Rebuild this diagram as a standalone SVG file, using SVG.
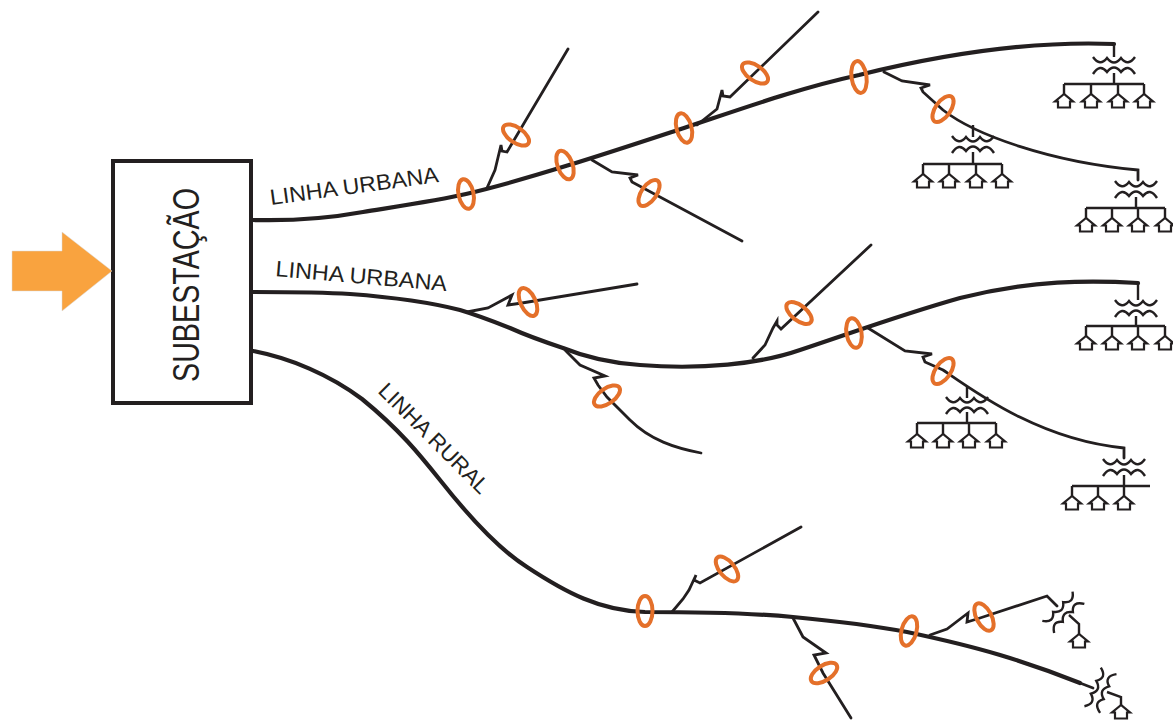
<svg xmlns="http://www.w3.org/2000/svg" width="1173" height="721" viewBox="0 0 1173 721">
<style>
.m{fill:none;stroke:#231f20;stroke-width:4.2;stroke-linejoin:round;stroke-linecap:round}
.b{fill:none;stroke:#231f20;stroke-width:2.8;stroke-linejoin:miter;stroke-linecap:round}
.s{fill:none;stroke:#231f20;stroke-width:2.4}
.h{fill:#fff;stroke:#231f20;stroke-width:2.2;stroke-linejoin:miter}
.o{fill:none;stroke:#e4702a;stroke-width:4}
.t{font-family:"Liberation Sans",Arial,sans-serif;fill:#231f20}
</style>
<defs>
<path id="tr" class="s" d="M-21,-8Q-14,2-7,-7Q0,2 7,-7Q14,2 21,-8M-21,9Q-14,-2-7,7Q0,-2 7,7Q14,-2 21,9"/>
<path id="ho" class="h" d="M0,-1L-9,6.5H-6V12.5H6V6.5H9Z"/>
</defs>
<rect width="1173" height="721" fill="#fff"/>
<g id="connectors">
<path class="m" d="M253,220C290,221 330,218 363,212C400,206 440,200 466,194C530,179 620,149 684,128C750,106 800,88 859,75C960,50 1040,41 1114,44"/>
<path class="m" d="M253,292C290,292 320,292 350,294C390,297 425,301 460,310C480,316 495,322 510,328C530,337 545,342 563,348C585,357 610,363 640,365C700,370 760,364 800,350C860,330 900,315 960,298C1030,280 1090,280 1138,283"/>
<path class="m" d="M253,351C290,358 330,375 362,399C400,430 420,455 440,480C470,518 500,550 527,567C565,592 600,611 645,612C700,612 750,613 793,617C835,621 870,625 907,632C940,639 970,646 1000,655C1030,664 1055,673 1080,683"/>
<path class="b" d="M487,188L495,170L501,145L502,151L507,152L568,49"/>
<path class="b" d="M592,160L612,172L638,175L630,178L632,182L742,241"/>
<path class="b" d="M697,125L717,109L722,90L723,96L730,97L818,12"/>
<path class="b" d="M884,72L902,81L930,85L921,88L923,92L943,110C975,135 1050,162 1138,170V180"/>
<path class="b" d="M467,312L488,308L512,295L508,305L522,303L637,284"/>
<path class="b" d="M565,350L580,365L605,376L594,378L598,385L607,397L630,420C650,440 675,448 701,453"/>
<path class="b" d="M753,358L765,345L773,328L777,321L777,325L781,329L871,245"/>
<path class="b" d="M868,328L905,351L932,354L923,357L925,362L943,370C975,392 1040,440 1124,448V458"/>
<path class="b" d="M672,612L683,599L689,590L696,575L694,580L700,583L801,527"/>
<path class="b" d="M793,618L803,637L826,653L814,655L823,673L851,718"/>
<path class="b" d="M930,635L947,629L968,613L967,622L980,618L1047,596L1057,606"/>
<path class="b" d="M1080,683L1093,688"/>
</g>
<g id="substation"><rect x="113" y="161" width="138" height="242" fill="#fff" stroke="#231f20" stroke-width="4"/>
<text class="t" transform="translate(199,382) rotate(-90)" font-size="37" textLength="194" lengthAdjust="spacingAndGlyphs">SUBESTAÇÃO</text></g>
<polygon id="arrow" points="12,251 62,251 62,232 112,271 62,311 62,291 12,291" fill="#f9a33f" stroke="#d8d8d8" stroke-width="0.5"/>
<g id="labels">
<text class="t" transform="translate(271,205) rotate(-7.8)" font-size="22" textLength="170" lengthAdjust="spacingAndGlyphs">LINHA URBANA</text>
<text class="t" transform="translate(275,276) rotate(5)" font-size="22" textLength="172" lengthAdjust="spacingAndGlyphs">LINHA URBANA</text>
<text class="t" transform="translate(377,392) rotate(45)" font-size="22" textLength="146" lengthAdjust="spacingAndGlyphs">LINHA RURAL</text>
</g>
<g id="breakers">
<ellipse class="o" cx="466" cy="194" rx="7.5" ry="15" transform="rotate(-12 466 194)"/>
<ellipse class="o" cx="565" cy="165" rx="7.5" ry="15" transform="rotate(-20 565 165)"/>
<ellipse class="o" cx="684" cy="128" rx="7.5" ry="15" transform="rotate(-15 684 128)"/>
<ellipse class="o" cx="859" cy="77" rx="7.5" ry="16" transform="rotate(-8 859 77)"/>
<ellipse class="o" cx="516" cy="135" rx="15" ry="7.5" transform="rotate(35 516 135)"/>
<ellipse class="o" cx="649" cy="193" rx="7.5" ry="15" transform="rotate(35 649 193)"/>
<ellipse class="o" cx="755" cy="73" rx="15" ry="7.5" transform="rotate(35 755 73)"/>
<ellipse class="o" cx="943" cy="109" rx="7.5" ry="15" transform="rotate(35 943 109)"/>
<ellipse class="o" cx="528" cy="302" rx="7.5" ry="15" transform="rotate(-25 528 302)"/>
<ellipse class="o" cx="607" cy="396" rx="15" ry="7.5" transform="rotate(-35 607 396)"/>
<ellipse class="o" cx="799" cy="313" rx="15" ry="7.5" transform="rotate(38 799 313)"/>
<ellipse class="o" cx="854" cy="333" rx="7.5" ry="15" transform="rotate(-10 854 333)"/>
<ellipse class="o" cx="943" cy="371" rx="7.5" ry="15" transform="rotate(35 943 371)"/>
<ellipse class="o" cx="645" cy="611" rx="7.5" ry="15"/>
<ellipse class="o" cx="727" cy="569" rx="7.5" ry="15" transform="rotate(-40 727 569)"/>
<ellipse class="o" cx="909" cy="631" rx="7.5" ry="15" transform="rotate(15 909 631)"/>
<ellipse class="o" cx="984" cy="617" rx="7.5" ry="15" transform="rotate(-28 984 617)"/>
<ellipse class="o" cx="824" cy="673" rx="15" ry="7.5" transform="rotate(-33 824 673)"/>
</g>
<g id="load1"><path class="s" d="M1114,44V57M1114,73V84M1064,84H1144M1064,84V95M1091,84V95M1118,84V95M1144,84V95"/><use href="#tr" x="1114" y="65"/><use href="#ho" x="1064" y="95"/><use href="#ho" x="1091" y="95"/><use href="#ho" x="1118" y="95"/><use href="#ho" x="1144" y="95"/></g>
<g id="load2"><path class="s" d="M973,125V137M973,152V164M923,164H1002M923,164V175M949,164V175M976,164V175M1002,164V175"/><use href="#tr" x="973" y="144"/><use href="#ho" x="923" y="175"/><use href="#ho" x="949" y="175"/><use href="#ho" x="976" y="175"/><use href="#ho" x="1002" y="175"/></g>
<g id="load3"><path class="s" d="M1136,197V208M1086,208H1165M1086,208V219M1112,208V219M1138,208V219M1165,208V219"/><use href="#tr" x="1136" y="189"/><use href="#ho" x="1086" y="219"/><use href="#ho" x="1112" y="219"/><use href="#ho" x="1138" y="219"/><use href="#ho" x="1165" y="219"/></g>
<g id="load4"><path class="s" d="M1138,283V300M1136,316V326M1086,326H1165M1086,326V337M1112,326V337M1138,326V337M1165,326V337"/><use href="#tr" x="1136" y="308"/><use href="#ho" x="1086" y="337"/><use href="#ho" x="1112" y="337"/><use href="#ho" x="1138" y="337"/><use href="#ho" x="1165" y="337"/></g>
<g id="load5"><path class="s" d="M967,387V398M967,412V423M917,423H996M917,423V435M943,423V435M969,423V435M996,423V435"/><use href="#tr" x="967" y="405"/><use href="#ho" x="917" y="435"/><use href="#ho" x="943" y="435"/><use href="#ho" x="969" y="435"/><use href="#ho" x="996" y="435"/></g>
<g id="load6"><path class="s" d="M1124,475V486M1072,486H1150M1072,486V497M1098,486V497M1124,486V497"/><use href="#tr" x="1124" y="467"/><use href="#ho" x="1072" y="497"/><use href="#ho" x="1098" y="497"/><use href="#ho" x="1124" y="497"/></g>
<g id="load7"><path class="s" d="M1069,615L1079,624V635"/><use href="#tr" transform="translate(1063,612) rotate(-44)"/><use href="#ho" x="1079" y="635"/></g>
<g id="load8"><path class="s" d="M1107,692L1121,697V706"/><use href="#tr" transform="translate(1100,690) rotate(-67)"/><use href="#ho" x="1121" y="706"/></g>
</svg>
